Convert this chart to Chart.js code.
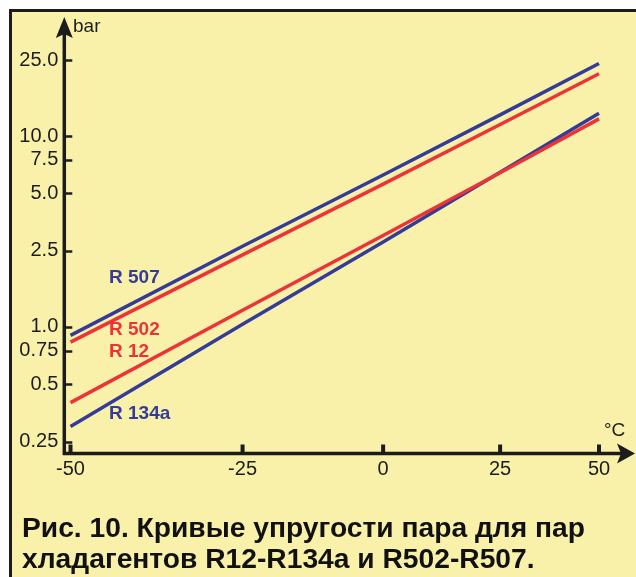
<!DOCTYPE html>
<html>
<head>
<meta charset="utf-8">
<script src="https://cdn.jsdelivr.net/npm/chart.js@4.4.1/dist/chart.umd.min.js"></script>
<style>
  html, body { margin: 0; padding: 0; background: #fff; }
  canvas { display: block; }
</style>
</head>
<body>
<canvas id="chart" width="636" height="577"></canvas>
<script>
// temperature, °C (x axis is drawn in 1/T, so lines come out straight)
const temps = [-50, -25, 0, 25, 50];

// vapour pressure, bar
const r507 = [0.90, 2.64, 6.25, 12.9, 24.0];
const r502 = [0.83, 2.38, 5.59, 11.5, 21.2];
const r12 = [0.40, 1.22, 3.01, 6.42, 12.3];
const r134a = [0.30, 1.03, 2.78, 6.45, 13.15];

const yTicks = [0.25, 0.5, 0.75, 1, 2.5, 5, 7.5, 10, 25];
const yTickLabels = ["0.25", "0.5", "0.75", "1.0", "2.5", "5.0", "7.5", "10.0", "25.0"];

const BLUE = "#353c98";
const RED = "#ec3338";
const INK = "#1c1c1c";
const BG = "#f9f1aa";

// °C -> 1000/K
function toX(t) {
  return 1000 / (t + 273.15);
}

function series(values) {
  return temps.map((t, i) => ({ x: toX(t), y: values[i] }));
}

const labels = [
  { text: "R 507", color: BLUE, x: 109, y: 278 },
  { text: "R 502", color: RED, x: 109, y: 330 },
  { text: "R 12", color: RED, x: 109, y: 352 },
  { text: "R 134a", color: BLUE, x: 109, y: 414 }
];

const decor = {
  id: "decor",
  beforeDraw(chart) {
    const ctx = chart.ctx;
    ctx.save();
    ctx.fillStyle = "#fff";
    ctx.fillRect(0, 0, chart.width, chart.height);
    ctx.fillStyle = BG;
    ctx.fillRect(10.5, 10.5, chart.width, chart.height);
    ctx.restore();
  },
  afterDraw(chart) {
    const ctx = chart.ctx;
    const area = chart.chartArea;
    const xs = chart.scales.x;
    const ys = chart.scales.y;
    ctx.save();

    // frame
    ctx.strokeStyle = INK;
    ctx.lineWidth = 3;
    ctx.strokeRect(10.5, 10.5, chart.width + 10, chart.height + 10);

    // axes
    ctx.lineWidth = 3.5;
    ctx.beginPath();
    ctx.moveTo(area.left, area.bottom + 1.5);
    ctx.lineTo(area.left, 34);
    ctx.moveTo(area.left - 1.5, area.bottom);
    ctx.lineTo(area.right - 14, area.bottom);
    ctx.stroke();

    ctx.fillStyle = INK;
    ctx.beginPath();
    ctx.moveTo(area.left, 17);
    ctx.lineTo(area.left + 8.5, 38);
    ctx.lineTo(area.left, 34);
    ctx.lineTo(area.left - 8.5, 38);
    ctx.closePath();
    ctx.fill();

    ctx.beginPath();
    ctx.moveTo(area.right, area.bottom);
    ctx.lineTo(area.right - 18, area.bottom - 10);
    ctx.lineTo(area.right - 14, area.bottom);
    ctx.lineTo(area.right - 18, area.bottom + 10);
    ctx.closePath();
    ctx.fill();

    // inward tick marks
    ctx.lineWidth = 2.5;
    ctx.beginPath();
    yTicks.forEach(v => {
      const y = Math.round(ys.getPixelForValue(v)) + 0.5;
      ctx.moveTo(area.left, y);
      ctx.lineTo(area.left + 8, y);
    });
    ctx.stroke();
    ctx.lineWidth = 4;
    ctx.beginPath();
    temps.forEach(t => {
      const x = xs.getPixelForValue(toX(t));
      ctx.moveTo(x, area.bottom);
      ctx.lineTo(x, area.bottom - 9);
    });
    ctx.stroke();

    // units
    ctx.font = '19px "Liberation Sans", Arial, sans-serif';
    ctx.textBaseline = "middle";
    ctx.textAlign = "left";
    ctx.fillText("bar", 73, 27);
    ctx.fillText("°C", 604, 431);

    // curve names
    ctx.font = 'bold 19px "Liberation Sans", Arial, sans-serif';
    labels.forEach(l => {
      ctx.fillStyle = l.color;
      ctx.fillText(l.text, l.x, l.y);
    });

    // caption
    const line1 = "Рис. 10. Кривые упругости пара для пар";
    const line2 = "хладагентов R12-R134a и R502-R507.";
    ctx.fillStyle = "#111";
    ctx.font = 'bold 27px "Liberation Sans", Arial, sans-serif';
    ctx.textBaseline = "alphabetic";
    const sx = 563 / ctx.measureText(line1).width;
    ctx.translate(22, 537);
    ctx.scale(sx, 1);
    ctx.fillText(line1, 0, 0);
    ctx.fillText(line2, 0, 31);
    ctx.restore();
  }
};

function lineSet(data, color) {
  return {
    data: data,
    borderColor: color,
    borderWidth: 3.5,
    pointRadius: 0,
    tension: 0,
    fill: false
  };
}

new Chart(document.getElementById("chart"), {
  type: "line",
  data: {
    datasets: [
      lineSet(series(r502), RED),
      lineSet(series(r12), RED),
      lineSet(series(r507), BLUE),
      lineSet(series(r134a), BLUE)
    ]
  },
  options: {
    responsive: false,
    animation: false,
    layout: { padding: { top: 18, right: 1, bottom: 93.5, left: 0 } },
    plugins: { legend: { display: false }, tooltip: { enabled: false } },
    scales: {
      x: {
        type: "linear",
        reverse: true,
        min: 3.0001,
        max: 4.4976,
        grid: { display: false, drawTicks: false },
        border: { display: false },
        afterBuildTicks: s => { s.ticks = temps.map(t => ({ value: toX(t) })); },
        afterFit: s => { s.height = 30; },
        ticks: {
          autoSkip: false,
          maxRotation: 0,
          padding: 4,
          color: INK,
          font: { family: '"Liberation Sans", Arial, sans-serif', size: 20 },
          callback: v => String(Math.round(1000 / v - 273.15))
        }
      },
      y: {
        type: "logarithmic",
        min: 0.2163,
        max: 41.58,
        grid: { display: false, drawTicks: false },
        border: { display: false },
        afterBuildTicks: s => { s.ticks = yTicks.map(v => ({ value: v })); },
        afterFit: s => { s.width = 64.3; },
        ticks: {
          autoSkip: false,
          padding: 6,
          color: INK,
          font: { family: '"Liberation Sans", Arial, sans-serif', size: 20 },
          callback: v => {
            const i = yTicks.findIndex(t => Math.abs(t - v) < 1e-6);
            return i >= 0 ? yTickLabels[i] : "";
          }
        }
      }
    }
  },
  plugins: [decor]
});
</script>
</body>
</html>
